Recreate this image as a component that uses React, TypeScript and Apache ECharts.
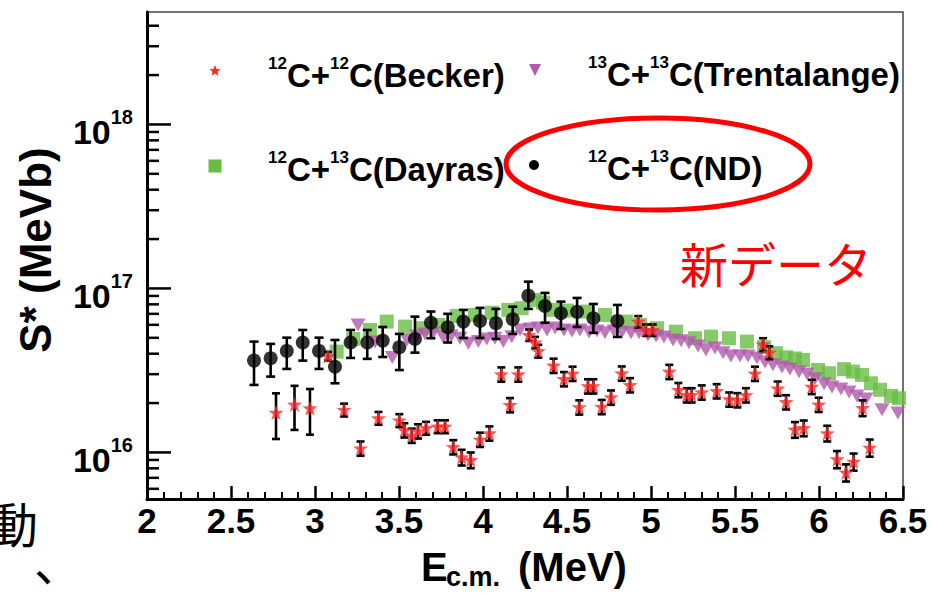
import React, { useEffect, useRef } from "react";
import * as echarts from "echarts";

// ---------- data ----------
const xMin = 2;
const xMax = 6.5;
const yMin = 5.2e15;
const yMax = 4.85e18;

const yMajorTicks = [1e16, 1e17, 1e18];
const yMinorTicks = [
  6e15, 7e15, 8e15, 9e15,
  2e16, 3e16, 4e16, 5e16, 6e16, 7e16, 8e16, 9e16,
  2e17, 3e17, 4e17, 5e17, 6e17, 7e17, 8e17, 9e17,
  2e18, 3e18, 4e18,
];

// 12C+13C (ND) - new data
const ndE = [2.637, 2.736, 2.832, 2.927, 3.024, 3.119, 3.212, 3.311, 3.403, 3.502, 3.595, 3.69, 3.79, 3.883, 3.982, 4.077, 4.177, 4.27, 4.369, 4.464, 4.56, 4.657, 4.8];
const ndS = [3.63e16, 3.75e16, 4.16e16, 4.68e16, 4.16e16, 3.33e16, 4.68e16, 4.68e16, 4.81e16, 4.38e16, 4.92e16, 6.18e16, 5.8e16, 6.28e16, 6.34e16, 6.14e16, 6.49e16, 9.04e16, 7.81e16, 7.06e16, 7.2e16, 6.58e16, 6.34e16];
const ndHi = [4.74e16, 4.59e16, 5.01e16, 5.58e16, 5.01e16, 4.85e16, 5.58e16, 5.58e16, 5.82e16, 5.28e16, 6.73e16, 7.23e16, 7.0e16, 7.4e16, 7.61e16, 7.5e16, 7.74e16, 1.1e17, 9.39e16, 8.31e16, 8.75e16, 8.04e16, 7.93e16];
const ndLo = [2.58e16, 2.9e16, 3.23e16, 3.63e16, 3.23e16, 2.64e16, 3.77e16, 3.72e16, 3.82e16, 3.18e16, 4.06e16, 4.97e16, 4.68e16, 4.99e16, 4.99e16, 4.92e16, 5.28e16, 7.5e16, 6.18e16, 5.66e16, 5.82e16, 5.36e16, 5.06e16];

// 12C+12C (Becker)
const beckerE = [2.768, 2.878, 2.97, 3.077, 3.173, 3.271, 3.378, 3.502, 3.532, 3.576, 3.613, 3.661, 3.73, 3.774, 3.823, 3.873, 3.927, 3.982, 4.038, 4.109, 4.161, 4.21, 4.274, 4.31, 4.329, 4.42, 4.482, 4.533, 4.573, 4.625, 4.657, 4.707, 4.762, 4.826, 4.875, 4.924, 4.97, 5.01, 5.109, 5.163, 5.213, 5.242, 5.302, 5.391, 5.466, 5.514, 5.565, 5.619, 5.667, 5.704, 5.754, 5.804, 5.857, 5.909, 5.957, 5.998, 6.049, 6.107, 6.161, 6.206, 6.259, 6.302];
const beckerS = [1.75e16, 1.96e16, 1.86e16, 3.87e16, 1.82e16, 1.06e16, 1.62e16, 1.57e16, 1.37e16, 1.27e16, 1.35e16, 1.41e16, 1.44e16, 1.44e16, 1.08e16, 9.35e15, 9.0e15, 1.2e16, 1.31e16, 3.0e16, 1.95e16, 3.0e16, 5.2e16, 4.69e16, 4.16e16, 3.39e16, 2.81e16, 3.03e16, 1.89e16, 2.54e16, 2.54e16, 1.9e16, 2.17e16, 3.04e16, 2.58e16, 6.28e16, 5.58e16, 5.58e16, 3.11e16, 2.41e16, 2.24e16, 2.24e16, 2.33e16, 2.37e16, 2.11e16, 2.09e16, 2.24e16, 3.03e16, 4.56e16, 4.07e16, 2.46e16, 2.03e16, 1.38e16, 1.41e16, 2.52e16, 1.96e16, 1.31e16, 9.1e15, 7.55e15, 8.79e15, 1.87e16, 1.07e16];
const beckerErr = [0.31, 0.3, 0.31, 0.06, 0.09, 0.1, 0.09, 0.09, 0.1, 0.1, 0.1, 0.09, 0.09, 0.09, 0.1, 0.11, 0.11, 0.1, 0.1, 0.1, 0.1, 0.1, 0.08, 0.08, 0.09, 0.1, 0.1, 0.1, 0.1, 0.1, 0.1, 0.1, 0.1, 0.1, 0.1, 0.08, 0.08, 0.08, 0.1, 0.1, 0.1, 0.1, 0.1, 0.1, 0.1, 0.1, 0.1, 0.1, 0.09, 0.09, 0.1, 0.1, 0.11, 0.11, 0.1, 0.1, 0.11, 0.12, 0.12, 0.12, 0.11, 0.12];

// 13C+13C (Trentalange)
const trentE = [3.256, 3.357, 3.46, 3.548, 3.605, 3.655, 3.704, 3.764, 3.81, 3.863, 3.913, 3.972, 4.022, 4.071, 4.121, 4.171, 4.22, 4.28, 4.327, 4.381, 4.429, 4.482, 4.53, 4.577, 4.631, 4.679, 4.726, 4.78, 4.827, 4.881, 4.929, 4.982, 5.03, 5.077, 5.131, 5.179, 5.226, 5.28, 5.327, 5.381, 5.429, 5.476, 5.53, 5.577, 5.631, 5.679, 5.726, 5.78, 5.827, 5.881, 5.929, 5.976, 6.03, 6.077, 6.131, 6.179, 6.226, 6.28, 6.375, 6.47];
const trentS = [5.99e16, 4.72e16, 3.79e16, 4.85e16, 5.13e16, 5.28e16, 5.37e16, 5.04e16, 5.13e16, 4.97e16, 4.63e16, 4.74e16, 4.92e16, 4.97e16, 4.74e16, 5.08e16, 5.58e16, 5.66e16, 5.74e16, 5.58e16, 5.74e16, 5.58e16, 5.51e16, 5.58e16, 5.43e16, 5.51e16, 5.36e16, 5.51e16, 5.43e16, 5.36e16, 5.36e16, 5.2e16, 5.13e16, 5.06e16, 4.85e16, 4.79e16, 4.66e16, 4.46e16, 4.22e16, 4.34e16, 4.05e16, 3.87e16, 3.87e16, 3.87e16, 3.77e16, 3.56e16, 3.42e16, 3.32e16, 3.23e16, 3.1e16, 3.01e16, 2.81e16, 2.62e16, 2.51e16, 2.44e16, 2.34e16, 2.21e16, 2.12e16, 1.82e16, 1.74e16];

// 12C+13C (Dayras)
const dayrasE = [3.129, 3.228, 3.327, 3.427, 3.536, 3.635, 3.734, 3.843, 3.952, 4.052, 4.151, 4.23, 4.31, 4.357, 4.417, 4.5, 4.619, 4.726, 4.851, 4.935, 5.036, 5.149, 5.262, 5.357, 5.464, 5.571, 5.673, 5.744, 5.804, 5.857, 5.905, 5.994, 6.06, 6.149, 6.202, 6.256, 6.31, 6.363, 6.429, 6.476];
const dayrasS = [4.12e16, 4.92e16, 5.58e16, 6.28e16, 5.85e16, 5.72e16, 5.99e16, 6.8e16, 6.89e16, 7.11e16, 7.4e16, 7.57e16, 8.51e16, 8.19e16, 7.4e16, 7.33e16, 7.23e16, 6.89e16, 6.28e16, 5.99e16, 5.72e16, 5.45e16, 4.97e16, 5.08e16, 4.97e16, 4.74e16, 4.38e16, 4.03e16, 3.8e16, 3.74e16, 3.66e16, 3.18e16, 3.04e16, 3.22e16, 3.11e16, 2.97e16, 2.64e16, 2.41e16, 2.21e16, 2.14e16];

// ---------- styles ----------
const FONT = "'Liberation Sans', Arial, Helvetica, sans-serif";
const CJK = "'Noto Sans CJK JP', sans-serif";
const RED = "#ff2a2a";
const PURPLE = "#b258ae";
const GREEN = "#68bd45";
const STAR =
  "path://M0,-10 L2.35,-3.24 L9.51,-3.09 L3.8,1.24 L5.88,8.09 L0,4 L-5.88,8.09 L-3.8,1.24 L-9.51,-3.09 L-2.35,-3.24 Z";

function starPoints(cx: number, cy: number, R: number, r: number) {
  const pts: number[][] = [];
  for (let i = 0; i < 10; i++) {
    const a = -Math.PI / 2 + (i * Math.PI) / 5;
    const rad = i % 2 === 0 ? R : r;
    pts.push([cx + rad * Math.cos(a), cy + rad * Math.sin(a)]);
  }
  return pts;
}

const errRender = (capHalf: number) => (params: any, api: any) => {
  const x = api.value(0);
  const lo = api.value(1);
  const hi = api.value(2);
  const p1 = api.coord([x, lo]);
  const p2 = api.coord([x, hi]);
  const style = { stroke: "#000", lineWidth: 2.6 };
  return {
    type: "group",
    children: [
      { type: "line", shape: { x1: p1[0], y1: p1[1], x2: p2[0], y2: p2[1] }, style },
      { type: "line", shape: { x1: p1[0] - capHalf, y1: p1[1], x2: p1[0] + capHalf, y2: p1[1] }, style },
      { type: "line", shape: { x1: p2[0] - capHalf, y1: p2[1], x2: p2[0] + capHalf, y2: p2[1] }, style },
    ],
  };
};

const legendRich = {
  b: { fontSize: 33, fontWeight: "bold", fontFamily: FONT, color: "#000", lineHeight: 40, verticalAlign: "bottom" },
  s: { fontSize: 17, fontWeight: "bold", fontFamily: FONT, color: "#000", lineHeight: 17, verticalAlign: "top", padding: [3, 0, 0, 0] },
};

function legendText(x: number, y: number, a: string, b: string, name: string) {
  return {
    type: "text",
    x,
    y,
    style: {
      text: `{s|${a}}{b|C+}{s|${b}}{b|C(${name})}`,
      rich: legendRich,
      verticalAlign: "middle",
      align: "left",
    },
    silent: true,
  };
}

export default function App() {
  const ref = useRef<HTMLDivElement>(null);

  useEffect(() => {
    if (!ref.current) return;
    const chart = echarts.init(ref.current, null, { renderer: "svg" });

    const ndErrData = ndE.map((e, i) => [e, ndLo[i], ndHi[i]]);
    const beckerErrData = beckerE.map((e, i) => [e, beckerS[i] * (1 - beckerErr[i]), beckerS[i] * (1 + beckerErr[i])]);
    const tickData = [
      ...yMajorTicks.map((v) => [xMin, v, 1]),
      ...yMinorTicks.map((v) => [xMin, v, 0]),
    ];

    const option: any = {
      animation: false,
      backgroundColor: "#ffffff",
      grid: {
        left: 147,
        right: 29,
        top: 12,
        bottom: 94,
        show: true,
        borderColor: "#444",
        borderWidth: 1.5,
        containLabel: false,
        outerBoundsMode: "none",
      },
      xAxis: {
        type: "value",
        min: xMin,
        max: xMax,
        interval: 0.5,
        axisLine: { show: true, onZero: false, lineStyle: { color: "#000", width: 3 } },
        axisTick: { show: true, inside: true, length: 13, lineStyle: { color: "#000", width: 2.5 } },
        minorTick: { show: true, splitNumber: 5, length: 7, lineStyle: { color: "#000", width: 2 } },
        splitLine: { show: false },
        axisLabel: {
          interval: 0,
          margin: 4,
          color: "#000",
          fontSize: 35,
          fontWeight: "bold",
          fontFamily: FONT,
        },
      },
      yAxis: {
        type: "log",
        logBase: 10,
        min: yMin,
        max: yMax,
        axisLine: { show: true, onZero: false, lineStyle: { color: "#000", width: 3 } },
        axisTick: { show: false },
        minorTick: { show: false },
        splitLine: { show: false },
        axisLabel: {
          margin: 14,
          padding: [8, 0, 0, 0],
          formatter: (v: number) => {
            const l = Math.log10(v);
            const e = Math.round(l);
            if (Math.abs(l - e) > 0.01) return "";
            return `{b|10}{s|${e}}`;
          },
          rich: {
            b: { fontSize: 34, fontWeight: "bold", fontFamily: FONT, color: "#000", lineHeight: 42, verticalAlign: "bottom" },
            s: { fontSize: 20, fontWeight: "bold", fontFamily: FONT, color: "#000", lineHeight: 20, verticalAlign: "top" },
          },
        },
      },
      series: [
        {
          name: "12C+13C(Dayras)",
          type: "scatter",
          data: dayrasE.map((e, i) => [e, dayrasS[i]]),
          symbol: "rect",
          symbolSize: 14,
          itemStyle: { color: GREEN },
          z: 2,
        },
        {
          name: "13C+13C(Trentalange)",
          type: "scatter",
          data: trentE.map((e, i) => [e, trentS[i]]),
          symbol: "triangle",
          symbolRotate: 180,
          symbolSize: [15, 13],
          itemStyle: { color: PURPLE },
          z: 3,
        },
        {
          name: "Becker errors",
          type: "custom",
          renderItem: errRender(4),
          data: beckerErrData,
          encode: { x: 0, y: [1, 2] },
          silent: true,
          z: 4,
        },
        {
          name: "12C+12C(Becker)",
          type: "scatter",
          data: beckerE.map((e, i) => [e, beckerS[i]]),
          symbol: STAR,
          symbolSize: 15,
          itemStyle: { color: RED },
          z: 5,
        },
        {
          name: "ND errors",
          type: "custom",
          renderItem: errRender(4.5),
          data: ndErrData,
          encode: { x: 0, y: [1, 2] },
          silent: true,
          z: 6,
        },
        {
          name: "12C+13C(ND)",
          type: "scatter",
          data: ndE.map((e, i) => [e, ndS[i]]),
          symbol: "circle",
          symbolSize: 14,
          itemStyle: { color: "#000" },
          z: 7,
        },
        {
          name: "y ticks",
          type: "custom",
          renderItem: (params: any, api: any) => {
            const v = api.value(1);
            const major = api.value(2);
            const pt = api.coord([xMin, v]);
            return {
              type: "line",
              shape: { x1: pt[0], y1: pt[1], x2: pt[0] + (major ? 24 : 12), y2: pt[1] },
              style: { stroke: "#000", lineWidth: 2.5 },
            };
          },
          data: tickData,
          encode: { x: 0, y: 1 },
          silent: true,
          clip: false,
          z: 10,
        },
      ],
      graphic: [
        // legend markers
        { type: "polygon", shape: { points: starPoints(215, 71, 6, 2.6) }, style: { fill: RED }, silent: true },
        { type: "polygon", shape: { points: [[529, 64], [541, 64], [535, 76]] }, style: { fill: PURPLE }, silent: true },
        { type: "rect", shape: { x: 208.5, y: 159.5, width: 13, height: 13 }, style: { fill: GREEN }, silent: true },
        { type: "circle", shape: { cx: 534, cy: 165, r: 5 }, style: { fill: "#000" }, silent: true },
        // legend texts
        legendText(268, 72, "12", "12", "Becker"),
        legendText(588, 71, "13", "13", "Trentalange"),
        legendText(268, 166, "12", "13", "Dayras"),
        legendText(588, 165, "12", "13", "ND"),
        // highlight ellipse
        {
          type: "ellipse",
          shape: { cx: 658, cy: 164, rx: 152, ry: 46 },
          style: { fill: "none", stroke: "#ff0000", lineWidth: 5 },
          silent: true,
          z: 100,
        },
        {
          type: "text",
          x: 680,
          y: 262,
          style: {
            text: "新データ",
            fill: "#ff0000",
            fontSize: 48,
            fontFamily: CJK,
            verticalAlign: "middle",
            align: "left",
          },
          silent: true,
        },
        // axis titles
        {
          type: "text",
          x: 35,
          y: 250,
          rotation: Math.PI / 2,
          style: {
            text: "S* (MeVb)",
            fill: "#000",
            fontSize: 44,
            fontWeight: "bold",
            fontFamily: FONT,
            align: "center",
            verticalAlign: "middle",
          },
          silent: true,
        },
        {
          type: "text",
          x: 421,
          y: 567,
          style: { text: "E", fill: "#000", fontSize: 40, fontWeight: "bold", fontFamily: FONT, align: "left", verticalAlign: "middle" },
          silent: true,
        },
        {
          type: "text",
          x: 446,
          y: 577,
          style: { text: "c.m.", fill: "#000", fontSize: 27, fontWeight: "bold", fontFamily: FONT, align: "left", verticalAlign: "middle" },
          silent: true,
        },
        {
          type: "text",
          x: 518,
          y: 567,
          style: { text: "(MeV)", fill: "#000", fontSize: 40, fontWeight: "bold", fontFamily: FONT, align: "left", verticalAlign: "middle" },
          silent: true,
        },
        // fragments of surrounding slide text (cut off by the screenshot edge)
        {
          type: "text",
          x: -10,
          y: 522,
          style: { text: "動", fill: "#000", fontSize: 48, fontFamily: CJK, align: "left", verticalAlign: "middle" },
          silent: true,
        },
        {
          type: "text",
          x: 34,
          y: 560,
          style: { text: "、", fill: "#000", fontSize: 48, fontFamily: CJK, align: "left", verticalAlign: "middle" },
          silent: true,
        },
      ],
    };

    chart.setOption(option);
    return () => chart.dispose();
  }, []);

  return (
    <div
      ref={ref}
      style={{ position: "fixed", left: 0, top: 0, width: 932, height: 593, background: "#fff" }}
    />
  );
}
